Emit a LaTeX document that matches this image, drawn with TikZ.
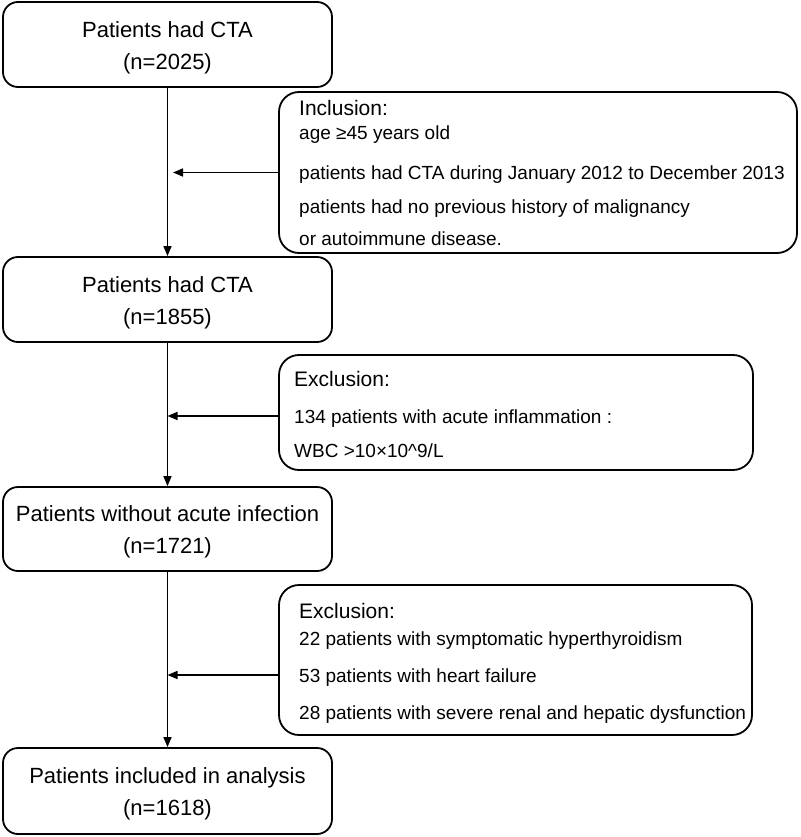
\documentclass[tikz,border=0pt]{standalone}
\usepackage{fontspec}
\setmainfont{Liberation Sans}
\usetikzlibrary{arrows.meta}
\begin{document}
\begin{tikzpicture}[x=1pt,y=-1pt,
 mainbox/.style={draw, line width=1.8pt, rounded corners=15pt, minimum width=329pt, minimum height=85pt, align=center, font=\fontsize{22}{32}\selectfont, inner sep=0pt},
 sidebox/.style={draw, line width=1.8pt, rounded corners=20pt, inner sep=0pt},
 head/.style={anchor=base west, inner sep=0pt, font=\fontsize{21}{25}\selectfont},
 item/.style={anchor=base west, inner sep=0pt, font=\fontsize{19}{23}\selectfont},
 arr/.style={line width=1.6pt, -{Triangle[length=10pt,width=8pt]}}]
\useasboundingbox (0,0) rectangle (800,837);
% main boxes
\node[mainbox] (b1) at (167.5,44.5) {\rule{0pt}{22pt}Patients had CTA\\(n=2025)};
\node[mainbox] (b2) at (167.5,299.5) {\rule{0pt}{22pt}Patients had CTA\\(n=1855)};
\node[mainbox, minimum height=84pt] (b3) at (167.5,529) {\rule{0pt}{22pt}Patients without acute infection\\(n=1721)};
\node[mainbox, minimum height=86pt] (b4) at (167.5,791) {\rule{0pt}{22pt}Patients included in analysis\\(n=1618)};
% side boxes
\node[sidebox, minimum width=518pt, minimum height=161pt] (inc) at (538,172.5) {};
\node[sidebox, minimum width=474pt, minimum height=115pt] (ex1) at (516,412.5) {};
\node[sidebox, minimum width=473pt, minimum height=150pt] (ex2) at (515.5,660) {};
% inclusion texts
\node[head] (inch) at (299,116) {Inclusion:};
\node[item] (inc1) at (299,140) {age ≥45 years old};
\node[item] (inc2) at (299,179) {patients had CTA during January 2012 to December 2013};
\node[item] (inc3) at (299,213) {patients had no previous history of malignancy};
\node[item] (inc4) at (299,245) {or autoimmune disease.};
% exclusion 1 texts
\node[head] (ex1h) at (294,386) {Exclusion:};
\node[item] (ex11) at (294,423) {134 patients with acute inflammation :};
\node[item] (ex12) at (294,457) {WBC >10×10\^{}9/L};
% exclusion 2 texts
\node[head] (ex2h) at (299,618) {Exclusion:};
\node[item] (ex21) at (299,645) {22 patients with symptomatic hyperthyroidism};
\node[item] (ex22) at (299,682) {53 patients with heart failure};
\node[item] (ex23) at (299,719) {28 patients with severe renal and hepatic dysfunction};
% vertical arrows
\draw[arr] (b1.south) -- (b2.north);
\draw[arr] (b2.south) -- (b3.north);
\draw[arr] (b3.south) -- (b4.north);
% side arrows
\coordinate (p1) at (b1.south |- inc.west);
\draw[arr] (inc.west) -- ([xshift=5.5pt]p1);
\coordinate (a1) at ([yshift=-3.5pt]ex1.west);
\draw[arr] (a1) -- (a1 -| b2.south);
\coordinate (a2) at ([yshift=-15pt]ex2.west);
\draw[arr] (a2) -- (a2 -| b3.south);
\end{tikzpicture}
\end{document}
